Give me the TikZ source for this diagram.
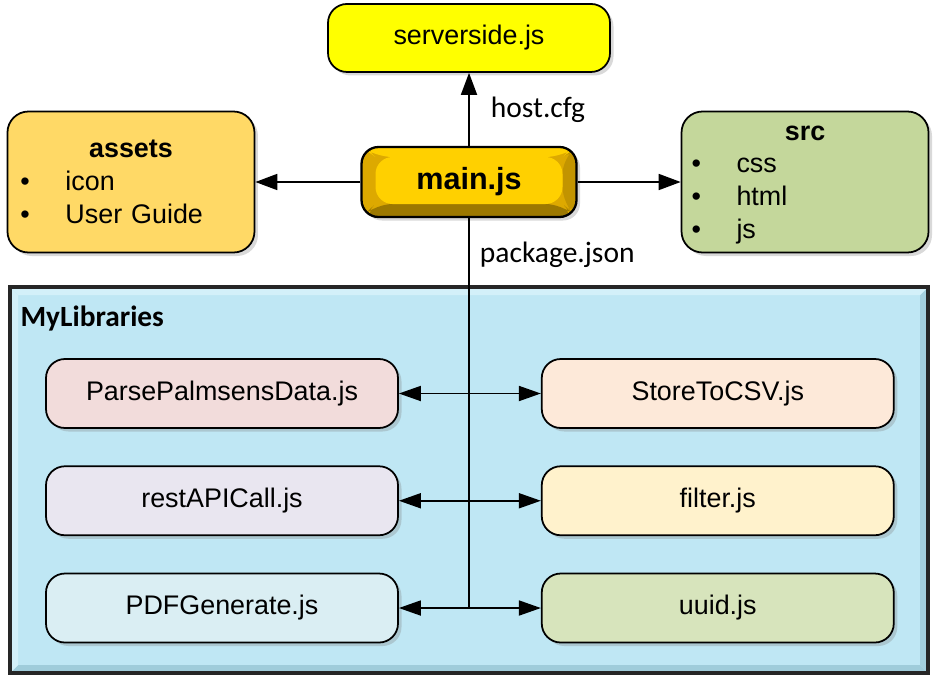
\documentclass[tikz,border=0pt]{standalone}
\usepackage{fontspec}
\setmainfont{Liberation Sans}
\newfontfamily\calibri{Carlito}
\usepackage{xcolor}
\usetikzlibrary{arrows.meta, positioning, shadows, calc}
\definecolor{srvyellow}{HTML}{FFFF00}
\definecolor{assetgold}{HTML}{FFD966}
\definecolor{srcgreen}{HTML}{C4D79B}
\definecolor{libblue}{HTML}{BFE7F4}
\definecolor{libdark}{HTML}{9FCCDA}
\definecolor{liblight}{HTML}{D3F0F9}
\definecolor{parsepink}{HTML}{F2DCDB}
\definecolor{storepeach}{HTML}{FDE9D9}
\definecolor{restlilac}{HTML}{E9E6F0}
\definecolor{filtercream}{HTML}{FFF2CC}
\definecolor{pdfblue}{HTML}{DAEEF3}
\definecolor{uuidgreen}{HTML}{D7E4BC}
\definecolor{mainface}{HTML}{FFD000}
\definecolor{mainside}{HTML}{DDA900}
\definecolor{mainright}{HTML}{C29400}
\definecolor{mainbottom}{HTML}{9C7800}
\newcommand{\itembul}{\makebox[0.9cm][l]{\textbullet}}
\tikzstyle{shade}    = [drop shadow={shadow xshift=0.07cm, shadow yshift=-0.07cm,
                        opacity=0.3}]
\tikzstyle{block}    = [rectangle, rounded corners=0.38cm, draw=black,
                        line width=1pt, text centered, shade,
                        font=\fontsize{15.3}{18.6}\selectfont]
\tikzstyle{libblock} = [block, minimum width=7.04cm, minimum height=1.38cm]
\tikzstyle{folder}   = [block, rounded corners=0.42cm, minimum width=4.94cm,
                        minimum height=2.82cm, text width=4.42cm,
                        inner xsep=0.26cm, align=left]
\tikzstyle{mainbox}  = [rectangle, rounded corners=0.34cm, draw=black,
                        line width=1.3pt, minimum width=4.3cm,
                        minimum height=1.4cm, fill=mainside, shade,
                        font=\fontsize{17.4}{20}\selectfont\bfseries,
                        path picture={
                          \coordinate (bsw) at (path picture bounding box.south west);
                          \coordinate (bse) at (path picture bounding box.south east);
                          \coordinate (bnw) at (path picture bounding box.north west);
                          \coordinate (bne) at (path picture bounding box.north east);
                          \fill [mainbottom] (bsw) -- (bse) -- ($(bse)+(-0.28,0.26)$)
                                -- ($(bsw)+(0.28,0.26)$) -- cycle;
                          \fill [mainright] (bse) -- (bne) -- ($(bne)+(-0.28,-0.2)$)
                                -- ($(bse)+(-0.28,0.26)$) -- cycle;
                          \fill [mainface] (bnw) -- (bne) -- ($(bne)+(-0.28,-0.2)$)
                                -- ($(bnw)+(0.28,-0.2)$) -- cycle;
                          \fill [mainface] ($(bnw)+(0.28,-0.2)$) rectangle ($(bse)+(-0.28,0.26)$);
                        }]
\tikzstyle{libframe} = [rectangle, draw=black!85, line width=2pt, fill=libblue,
                        path picture={
                          \coordinate (fsw) at (path picture bounding box.south west);
                          \coordinate (fse) at (path picture bounding box.south east);
                          \coordinate (fnw) at (path picture bounding box.north west);
                          \coordinate (fne) at (path picture bounding box.north east);
                          \fill [libdark] (fsw) -- (fse) -- ($(fse)+(-0.16,0.16)$)
                                -- ($(fsw)+(0.16,0.16)$) -- cycle;
                          \fill [libdark!85!libblue] (fse) -- (fne) -- ($(fne)+(-0.16,-0.16)$)
                                -- ($(fse)+(-0.16,0.16)$) -- cycle;
                          \fill [liblight] (fnw) -- (fne) -- ($(fne)+(-0.16,-0.16)$)
                                -- ($(fnw)+(0.16,-0.16)$) -- cycle;
                          \fill [liblight] (fsw) -- (fnw) -- ($(fnw)+(0.16,-0.16)$)
                                -- ($(fsw)+(0.16,0.16)$) -- cycle;
                        }]
\tikzstyle{edgelabel} = [inner sep=0pt, font=\calibri\fontsize{16.8}{20}\selectfont]
\tikzstyle{arrow}    = [line width=1pt, -{Triangle[length=0.44cm, width=0.32cm]}]
\tikzstyle{biarrow}  = [line width=1pt, {Triangle[length=0.44cm, width=0.3cm]}-{Triangle[length=0.44cm, width=0.3cm]}]

\begin{document}
\begin{tikzpicture}
    \useasboundingbox (0,0) rectangle (18.66,-13.54);

    % library frame
    \node (mylib) [libframe, minimum width=18.36cm, minimum height=7.72cm] at (9.38,-9.6) {};
    \node (libtitle) [anchor=base west, inner sep=0pt,
                      font=\calibri\fontsize{16.7}{20}\selectfont\bfseries]
          at ([shift={(0.24,-0.82)}]mylib.north west) {MyLibraries};

    % top part
    \node (main)   [mainbox] at (9.38,-3.64)               {main.js};
    \node (server) [block, fill=srvyellow, minimum width=5.64cm,
                    minimum height=1.36cm, above=1.46cm of main] {serverside.js};
    \node (assets) [folder, fill=assetgold, left=2.1cm of main]
          {\centering\textbf{assets}\par\raggedright\itembul icon\\\itembul User Guide};
    \node (src)    [folder, fill=srcgreen, right=2.06cm of main, inner xsep=0.2cm, text width=4.54cm]
          {\centering\rule{0pt}{0.4cm}\textbf{src}\par\raggedright\itembul css\\\itembul html\\\itembul js};

    % libraries
    \node (parse)  [libblock, fill=parsepink] at (4.44,-7.87)  {ParsePalmsensData.js};
    \node (rest)   [libblock, fill=restlilac, below=0.73cm of parse] {restAPICall.js};
    \node (pdf)    [libblock, fill=pdfblue,   below=0.73cm of rest]  {PDFGenerate.js};
    \node (store)  [libblock, fill=storepeach,  right=2.84cm of parse] {StoreToCSV.js};
    \node (filter) [libblock, fill=filtercream, right=2.84cm of rest]  {filter.js};
    \node (uuid)   [libblock, fill=uuidgreen,   right=2.84cm of pdf]   {uuid.js};

    \coordinate (bus) at (main.south |- pdf.east);

    \draw [arrow] (main) -- node (hostlbl) [edgelabel, midway, right=0.42cm] {host.cfg} (server);
    \draw [arrow] (main.west) -- (assets.east);
    \draw [arrow] (main.east) -- (src.west);
    \draw [line width=1pt] (main.south) -- node (pkglbl) [edgelabel, pos=0.093, right=0.2cm] {package.json} (bus);

    \draw [biarrow] (parse.east) -- (store.west);
    \draw [biarrow] (rest.east)  -- (filter.west);
    \draw [biarrow] (pdf.east)   -- (uuid.west);
\end{tikzpicture}
\end{document}
